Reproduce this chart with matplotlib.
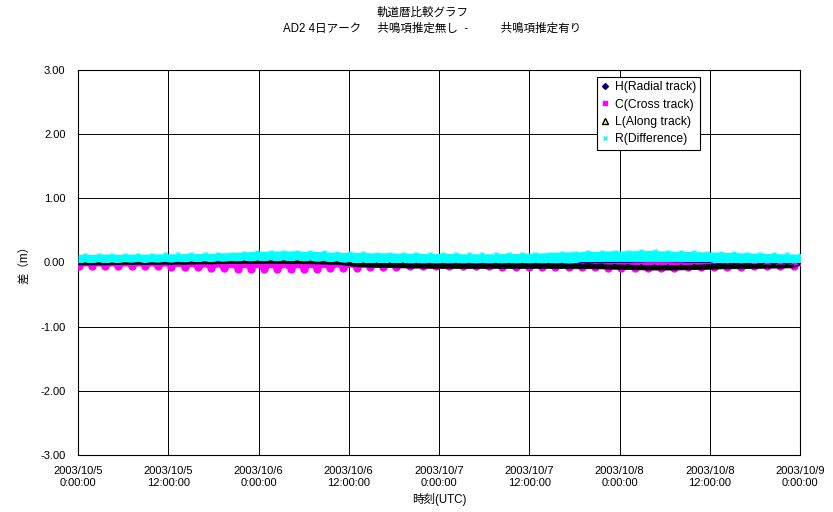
import numpy as np
import matplotlib
matplotlib.use("Agg")
import matplotlib.pyplot as plt
from matplotlib.lines import Line2D

plt.rcParams['font.family'] = ['Liberation Sans', 'Noto Sans CJK JP', 'DejaVu Sans']

# orbit sampling (hours from 2003/10/5 0:00 UTC)
T0 = 0.1
PERIOD = 1.76
N_ORB = 55

x_labels = ["2003/10/5\n0:00:00", "2003/10/5\n12:00:00", "2003/10/6\n0:00:00",
            "2003/10/6\n12:00:00", "2003/10/7\n0:00:00", "2003/10/7\n12:00:00",
            "2003/10/8\n0:00:00", "2003/10/8\n12:00:00", "2003/10/9\n0:00:00"]
y_ticks = [-3, -2, -1, 0, 1, 2, 3]

# H (Radial) - mostly hidden under the others
h_val = [0.000, 0.000, -0.005, 0.000, 0.000, -0.005, 0.000,
         0.000, 0.005, 0.005, 0.005, 0.010, 0.010, 0.010,
         0.010, 0.010, 0.010, 0.005, 0.005, 0.000, 0.000,
         -0.005, -0.005, -0.005, -0.010, -0.010, -0.010, -0.010,
         -0.010, -0.010, -0.010, -0.010, -0.010, -0.010, -0.010,
         -0.010, -0.010, -0.010, -0.005, -0.005, 0.000,
         0.000, 0.000, 0.000, 0.000, 0.000, -0.005, -0.005,
         -0.005, -0.005, -0.010, -0.010, -0.010, -0.010, -0.010]

# C (Cross) - top of band, mid-orbit level, trough per orbit
c_top = [-0.035, -0.035, -0.035, -0.030, -0.030, -0.030, -0.030,
         -0.030, -0.025, -0.025, -0.020, -0.020, -0.015, -0.015,
         -0.010, -0.010, -0.015, -0.015, -0.020, -0.025, -0.030,
         -0.030, -0.030, -0.030, -0.030, -0.030, -0.030, -0.030,
         -0.030, -0.030, -0.030, -0.030, -0.030, -0.030, -0.030,
         -0.030, -0.025, -0.020, -0.020, -0.015, -0.010,
         -0.005, 0.000, 0.005, 0.005, 0.000, -0.005, -0.010,
         -0.020, -0.025, -0.030, -0.030, -0.030, -0.030, -0.030]
c_mid = [-0.045, -0.045, -0.045, -0.045, -0.045, -0.045, -0.045,
         -0.050, -0.055, -0.060, -0.060, -0.065, -0.065, -0.065,
         -0.065, -0.065, -0.065, -0.065, -0.065, -0.060, -0.060,
         -0.060, -0.060, -0.060, -0.060, -0.055, -0.050, -0.050,
         -0.050, -0.050, -0.050, -0.050, -0.050, -0.055, -0.055,
         -0.055, -0.055, -0.060, -0.060, -0.060, -0.060,
         -0.060, -0.060, -0.060, -0.060, -0.060, -0.060, -0.060,
         -0.055, -0.055, -0.050, -0.050, -0.045, -0.045, -0.045]
c_lo = [-0.049, -0.049, -0.057, -0.057, -0.057, -0.057, -0.061,
        -0.065, -0.072, -0.077, -0.083, -0.088, -0.096, -0.103,
        -0.108, -0.108, -0.108, -0.103, -0.096, -0.088, -0.083,
        -0.083, -0.077, -0.072, -0.068, -0.061, -0.057, -0.057,
        -0.057, -0.057, -0.061, -0.061, -0.065, -0.072, -0.072,
        -0.072, -0.072, -0.077, -0.077, -0.077, -0.080,
        -0.083, -0.083, -0.083, -0.083, -0.083, -0.077, -0.077,
        -0.072, -0.068, -0.065, -0.061, -0.057, -0.057, -0.052]

# L (Along)
l_hi = [-0.010, -0.005, -0.010, -0.005, 0.000, -0.005, 0.000,
        0.000, 0.005, 0.010, 0.010, 0.015, 0.020, 0.020,
        0.025, 0.025, 0.025, 0.020, 0.015, 0.010, 0.000,
        -0.010, -0.010, -0.010, -0.010, -0.015, -0.015, -0.015,
        -0.015, -0.015, -0.015, -0.015, -0.015, -0.015, -0.015,
        -0.015, -0.015, -0.020, -0.020, -0.025, -0.030,
        -0.030, -0.035, -0.040, -0.040, -0.040, -0.035, -0.030,
        -0.025, -0.020, -0.020, -0.025, -0.030, -0.030, -0.030]
l_lo = [-0.030, -0.030, -0.030, -0.025, -0.025, -0.025, -0.020,
        -0.020, -0.020, -0.015, -0.015, -0.010, -0.010, -0.010,
        -0.005, -0.005, -0.010, -0.010, -0.015, -0.020, -0.030,
        -0.060, -0.065, -0.070, -0.075, -0.080, -0.080, -0.085,
        -0.085, -0.085, -0.085, -0.085, -0.085, -0.085, -0.085,
        -0.085, -0.085, -0.090, -0.090, -0.090, -0.095,
        -0.100, -0.105, -0.110, -0.110, -0.110, -0.105, -0.100,
        -0.095, -0.090, -0.090, -0.085, -0.080, -0.080, -0.075]

# R (Difference)
r_hi = [0.115, 0.115, 0.120, 0.115, 0.120, 0.120, 0.125,
        0.125, 0.130, 0.130, 0.135, 0.140, 0.150, 0.160,
        0.165, 0.170, 0.170, 0.165, 0.160, 0.150, 0.145,
        0.145, 0.140, 0.140, 0.135, 0.135, 0.130, 0.130,
        0.130, 0.125, 0.125, 0.125, 0.130, 0.130, 0.135,
        0.140, 0.150, 0.155, 0.160, 0.165, 0.170,
        0.170, 0.175, 0.175, 0.170, 0.165, 0.160, 0.155,
        0.150, 0.145, 0.140, 0.135, 0.130, 0.125, 0.120]
r_lo = [0.010, 0.010, 0.010, 0.010, 0.010, 0.010, 0.010,
        0.010, 0.010, 0.010, 0.010, 0.015, 0.015, 0.015,
        0.015, 0.015, 0.015, 0.015, 0.015, 0.005, 0.005,
        0.005, 0.005, 0.005, 0.005, 0.005, 0.005, 0.005,
        0.005, 0.005, 0.005, 0.005, 0.005, 0.005, 0.005,
        0.005, 0.005, 0.005, 0.030, 0.030, 0.030,
        0.030, 0.030, 0.030, 0.030, 0.030, 0.030, 0.030,
        0.010, 0.010, 0.010, 0.010, 0.010, 0.010, 0.010]

t_tr = T0 + PERIOD * np.arange(N_ORB)   # trough times
t_cr = t_tr + PERIOD / 2               # crest times

def zig(a, b):
    # interleave values at trough / crest times
    x = np.column_stack([t_tr, t_cr]).ravel()
    y = np.column_stack([a, b]).ravel()
    return x, y

fig = plt.figure(figsize=(8.33, 5.12), dpi=100)
ax = fig.add_axes([78/833, 1-455/512, 722/833, 385/512])

# H
ax.plot(t_tr, h_val, color='#000080', lw=1.5, zorder=2)

# C scallops
xc, yc = zig(c_lo, c_mid)
ax.fill_between(xc, yc, np.repeat(c_top, 2), color='#FF00FF', lw=0.8, zorder=3)
ax.plot(t_tr, c_lo, 'o', color='#FF00FF', ms=6, mew=0, zorder=3)

# R band
ax.fill_between(xc, np.repeat(r_lo, 2), np.repeat(r_hi, 2), color='#00FFFF', lw=1, zorder=4)
ax.plot(t_cr, r_hi, 'x', color='#00FFFF', ms=3, mew=1, zorder=4)

# L wiggle
xl, yl = zig(l_lo, l_hi)
ax.fill_between(t_tr, l_lo, l_hi, color='black', lw=0.5, zorder=5)
ax.plot(xl, yl, color='black', lw=1.0, zorder=5)

ax.set_xlim(0, 96)
ax.set_ylim(-3, 3)
ax.set_xticks(np.arange(0, 97, 12))
ax.set_xticklabels(x_labels)
ax.set_yticks(y_ticks)
ax.set_yticklabels([f"{v:.2f}" for v in y_ticks])
ax.set_axisbelow(True)
ax.grid(True, color='black', lw=0.7)
ax.tick_params(axis='x', length=0, labelsize=8, pad=8)
ax.tick_params(axis='y', length=0, labelsize=8, pad=9)
for s in ax.spines.values():
    s.set_color('black')
    s.set_linewidth(0.8)

handles = [
    Line2D([], [], ls='none', marker='D', ms=3, color='#000080'),
    Line2D([], [], ls='none', marker='s', ms=3.5, color='#FF00FF'),
    Line2D([], [], ls='none', marker='^', ms=4, mfc='#FFFF66', mec='black'),
    Line2D([], [], ls='none', marker='x', ms=3.5, mew=1, color='#00FFFF'),
]
names = ["H(Radial track)", "C(Cross track)", "L(Along track)", "R(Difference)"]
leg = ax.legend(handles, names, loc='upper left', bbox_to_anchor=(0.719, 0.982),
                fontsize=8.7, fancybox=False, framealpha=1, edgecolor='black',
                handlelength=0.6, handletextpad=0.5, borderpad=0.35,
                labelspacing=0.45, borderaxespad=0)
leg.get_frame().set_linewidth(0.8)

fig.text(423/833, 1-13/512, "軌道暦比較グラフ", ha='center', va='center', fontsize=8.3)
fig.text(432/833, 1-29/512,
         "AD2 4日アーク     共鳴項推定無し  -          共鳴項推定有り",
         ha='center', va='center', fontsize=8.3)
fig.text(25/833, 1-262/512, "差（m）", rotation=90, ha='center', va='center', fontsize=8.3)
fig.text(439/833, 1-500/512, "時刻(UTC)", ha='center', va='center', fontsize=8.3)

fig.savefig("out.png", dpi=100)
